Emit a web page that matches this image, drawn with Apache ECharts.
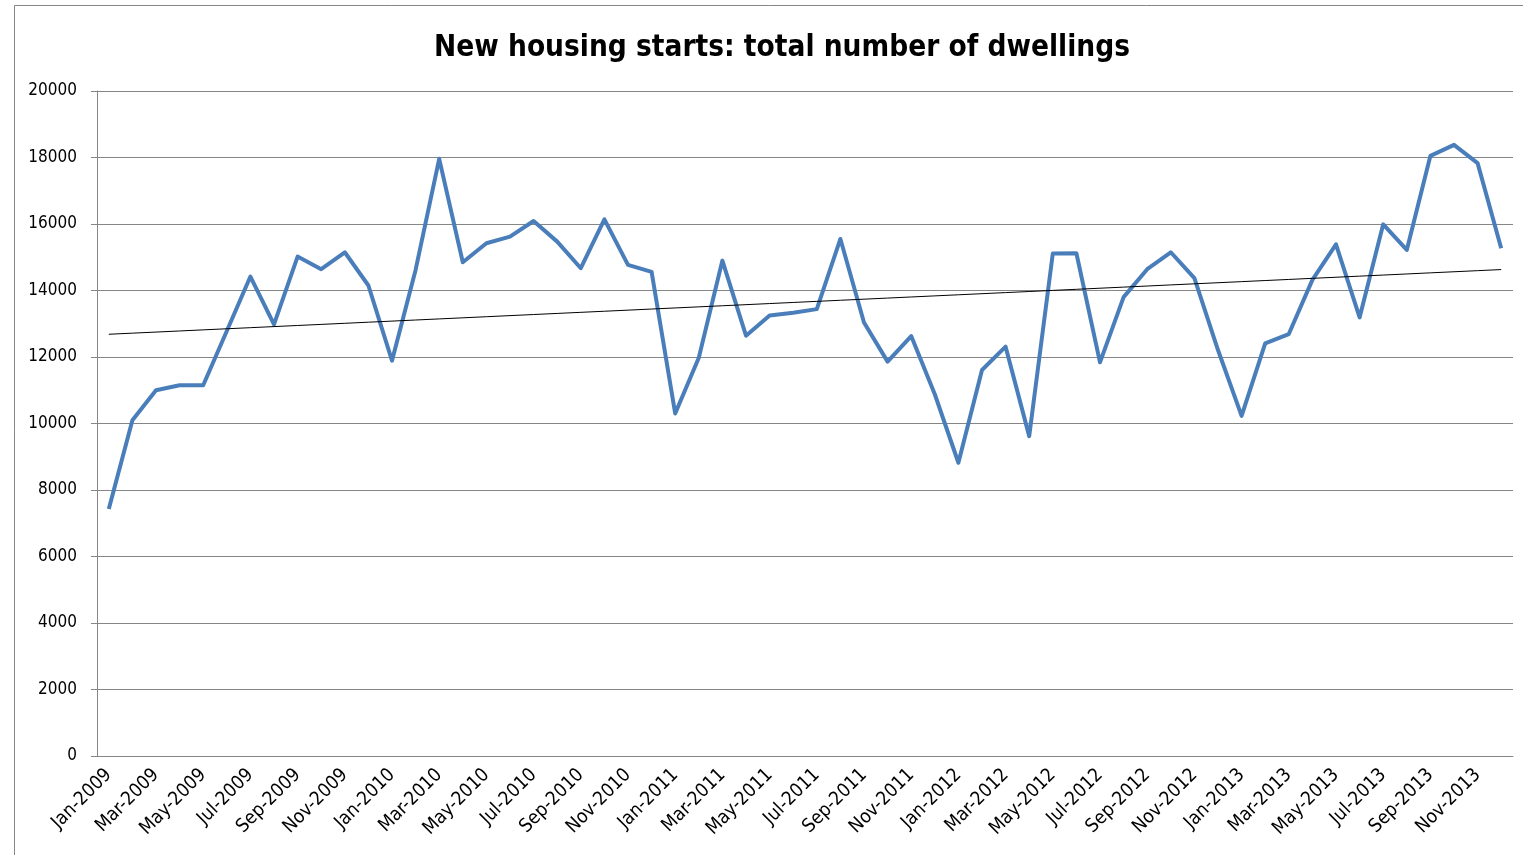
<!DOCTYPE html>
<html>
<head>
<meta charset="utf-8">
<title>New housing starts</title>
<script src="https://cdn.jsdelivr.net/npm/echarts@6/dist/echarts.min.js"></script>
<style>
  html, body { margin: 0; padding: 0; background: #fff; }
  #chart { width: 1523px; height: 855px; }
</style>
</head>
<body>
<div id="chart"></div>
<script>
// months Jan-2009 .. Dec-2013
const years = [2009, 2010, 2011, 2012, 2013];
const monthNames = ['Jan', 'Feb', 'Mar', 'Apr', 'May', 'Jun', 'Jul', 'Aug', 'Sep', 'Oct', 'Nov', 'Dec'];
const categories = [];
years.forEach(y => monthNames.forEach(m => categories.push(m + '-' + y)));

// total number of dwellings
const dwellings2009 = [7430, 10100, 11000, 11150, 11150, 12780, 14420, 12980, 15020, 14640, 15150, 14150];
const dwellings2010 = [11890, 14620, 17960, 14850, 15420, 15620, 16090, 15470, 14670, 16140, 14770, 14560];
const dwellings2011 = [10300, 11980, 14900, 12640, 13250, 13330, 13440, 15550, 13040, 11860, 12630, 10880];
const dwellings2012 = [8820, 11610, 12310, 9620, 15110, 15120, 11840, 13800, 14640, 15150, 14370, 12210];
const dwellings2013 = [10230, 12410, 12690, 14320, 15390, 13190, 15990, 15220, 18050, 18380, 17830, 15270];
const dwellings = [].concat(dwellings2009, dwellings2010, dwellings2011, dwellings2012, dwellings2013);

// linear trendline (least squares), like the spreadsheet one
const n = dwellings.length;
const meanX = (n - 1) / 2;
const meanY = dwellings.reduce((a, b) => a + b, 0) / n;
let sxy = 0, sxx = 0;
dwellings.forEach((v, i) => { sxy += (i - meanX) * (v - meanY); sxx += (i - meanX) * (i - meanX); });
const slope = sxy / sxx;
const trend = dwellings.map((v, i) => +(meanY + slope * (i - meanX)).toFixed(1));

const gridColor = '#868686';
// narrow font stands in for the squeezed Calibri of the original
const fontName = "'Liberation Sans Narrow', 'DejaVu Sans Condensed', Lato, sans-serif";

const chart = echarts.init(document.getElementById('chart'));
chart.setOption({
  animation: false,
  backgroundColor: '#fff',
  title: {
    text: 'New housing starts: total number of dwellings',
    left: 777,
    textAlign: 'center',
    top: 28,
    textStyle: { fontFamily: fontName, fontSize: 29.5, fontWeight: 'bold', color: '#000' }
  },
  graphic: [{
    type: 'rect',
    shape: { x: 14.5, y: 5.5, width: 1530, height: 900 },
    style: { fill: 'none', stroke: gridColor, lineWidth: 1 },
    silent: true
  }],
  grid: { left: 97, right: 10, top: 91, bottom: 99 },
  xAxis: {
    type: 'category',
    data: categories,
    boundaryGap: true,
    axisLine: { lineStyle: { color: gridColor, width: 1 } },
    axisTick: { interval: 1, length: 6, lineStyle: { color: gridColor } },
    axisLabel: {
      interval: 1,
      rotate: 45,
      margin: 16,
      fontFamily: fontName,
      fontSize: 19,
      color: '#000'
    },
    splitLine: { show: false }
  },
  yAxis: {
    type: 'value',
    min: 0,
    max: 20000,
    interval: 2000,
    axisLine: { show: true, lineStyle: { color: gridColor, width: 1 } },
    axisTick: { show: true, length: 6, lineStyle: { color: gridColor } },
    axisLabel: {
      margin: 20,
      fontFamily: fontName,
      fontSize: 17,
      color: '#000',
      formatter: v => String(v)
    },
    splitLine: { lineStyle: { color: gridColor, width: 1 } }
  },
  series: [
    {
      name: 'Dwellings',
      type: 'line',
      data: dwellings,
      symbol: 'none',
      lineStyle: { color: '#4A7EBB', width: 4, join: 'round' },
      z: 2
    },
    {
      name: 'Linear trend',
      type: 'line',
      data: trend,
      symbol: 'none',
      lineStyle: { color: '#000', width: 1 },
      z: 3
    }
  ]
});
</script>
</body>
</html>
